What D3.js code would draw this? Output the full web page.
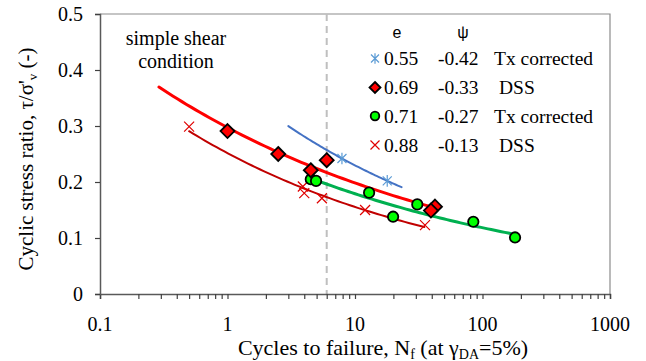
<!DOCTYPE html>
<html><head><meta charset="utf-8">
<script src="https://cdn.jsdelivr.net/npm/d3@7"></script>
<style>body{margin:0;background:#fff}svg{display:block}
.serif{font-family:"Liberation Serif","Times New Roman","DejaVu Serif",serif}
.sans{font-family:"Liberation Sans",Arial,"DejaVu Sans",sans-serif}</style>
</head><body>
<script>
// ---- data ----
const xTicks = [0.1, 1, 10, 100, 1000];
const yTicks = [0, 0.1, 0.2, 0.3, 0.4, 0.5];
const thresholdN = 6;

const txDenseN = [7.9, 17.9];           // e=0.55 Tx corrected (star)
const txDenseV = [0.242, 0.202];
const txDenseRange = [3.0, 23.2];

const dss069N = [1.0, 2.5, 4.5, 6.0, 42.4, 39.4];   // e=0.69 DSS (diamond)
const dss069V = [0.291, 0.250, 0.221, 0.239, 0.156, 0.149];
const dss069Range = [0.29, 42];

const tx071N = [4.5, 4.95, 12.9, 19.9, 30.8, 84.7, 180];   // e=0.71 Tx corrected (circle)
const tx071V = [0.205, 0.202, 0.181, 0.138, 0.160, 0.129, 0.101];
const tx071Range = [4.5, 180];

const dss088N = [0.5, 3.9, 4.0, 5.5, 12.0, 35.4];   // e=0.88 DSS (x)
const dss088V = [0.299, 0.192, 0.180, 0.171, 0.150, 0.123];
const dss088Range = [0.5, 35];

const legendE = ["0.55", "0.69", "0.71", "0.88"];
const legendPsi = ["-0.42", "-0.33", "-0.27", "-0.13"];
const legendTest = ["Tx corrected", "DSS", "Tx corrected", "DSS"];

// ---- layout ----
const W = 646, H = 361;
const m = {l: 100, r: 610, t: 14, b: 294};
const svg = d3.select("body").append("svg").attr("width", W).attr("height", H);
const x = d3.scaleLog().domain([0.1, 1000]).range([m.l, m.r]);
const y = d3.scaleLinear().domain([0, 0.5]).range([m.b, m.t]);
const FS = 20;

// plot border (top / right)
svg.append("path").attr("d", `M${m.l},${m.t}H${m.r}V${m.b}`)
  .attr("fill", "none").attr("stroke", "#8c8c8c").attr("stroke-width", 1.2);

// dashed threshold
svg.append("line").attr("x1", x(thresholdN)).attr("x2", x(thresholdN))
  .attr("y1", m.t).attr("y2", m.b).attr("stroke", "#bfbfbf")
  .attr("stroke-width", 2).attr("stroke-dasharray", "7,5");

// axes
const minor = [];
for (let d = 0.1; d < 1000; d *= 10) for (let k = 1; k < 10; k++) minor.push(d * k);
minor.push(1000);
const xAxis = d3.axisBottom(x).tickValues(minor).tickSize(5).tickFormat(() => "");
const gx = svg.append("g").attr("transform", `translate(0,${m.b})`).call(xAxis);
gx.select(".domain").attr("stroke", "#595959").attr("stroke-width", 1.5);
gx.selectAll(".tick line").attr("stroke", "#404040").attr("stroke-width", 1.2);
svg.append("g").selectAll("text").data(xTicks).join("text")
  .attr("class", "serif")
  .attr("x", d => x(d)).attr("y", 331).attr("text-anchor", "middle")
  .style("font-size", FS + "px").attr("fill", "#000")
  .text(d => d);

const yAxis = d3.axisLeft(y).tickValues(yTicks).tickSize(5).tickFormat(() => "");
const gy = svg.append("g").attr("transform", `translate(${m.l},0)`).call(yAxis);
gy.select(".domain").attr("stroke", "#595959").attr("stroke-width", 1.5);
gy.selectAll(".tick line").attr("stroke", "#404040").attr("stroke-width", 1.2);
svg.append("g").selectAll("text").data(yTicks).join("text")
  .attr("class", "serif")
  .attr("x", 83).attr("y", d => y(d) + 6.5).attr("text-anchor", "end")
  .style("font-size", FS + "px").attr("fill", "#000")
  .text(d => d);

// titles
const xt = svg.append("text").attr("class", "serif").attr("x", 383).attr("y", 355).attr("text-anchor", "middle")
  .style("font-size", "22px");
xt.append("tspan").text("Cycles to failure, N");
xt.append("tspan").attr("dy", 4).style("font-size", "14px").text("f");
xt.append("tspan").attr("dy", -4).text(" (at γ");
xt.append("tspan").attr("dy", 4).style("font-size", "14px").text("DA");
xt.append("tspan").attr("dy", -4).text("=5%)");

const yt = svg.append("text").attr("class", "serif").attr("transform", "translate(33,159) rotate(-90)")
  .attr("text-anchor", "middle").style("font-size", "21px");
yt.append("tspan").text("Cyclic stress ratio, τ/σ'");
yt.append("tspan").attr("dy", 4).style("font-size", "13px").text("v");
yt.append("tspan").attr("dy", -4).text(" (-)");

// annotation
const ann = svg.append("text").attr("class", "serif").attr("text-anchor", "middle")
  .style("font-size", FS + "px");
ann.append("tspan").attr("x", 176).attr("y", 45).text("simple shear");
ann.append("tspan").attr("x", 176).attr("y", 68).text("condition");

// power-law trend lines fitted from the points (log-log least squares)
function powerFit(N, V) {
  const lx = N.map(Math.log), ly = V.map(Math.log);
  const mx = d3.mean(lx), my = d3.mean(ly);
  const b = d3.sum(lx, (v, i) => (v - mx) * (ly[i] - my)) / d3.sum(lx, v => (v - mx) ** 2);
  const a = Math.exp(my - b * mx);
  return n => a * Math.pow(n, b);
}
function trend(N, V, range, color, w) {
  const f = powerFit(N, V);
  const pts = d3.range(0, 61).map(i => {
    const n = Math.exp(Math.log(range[0]) + (Math.log(range[1]) - Math.log(range[0])) * i / 60);
    return [x(n), y(f(n))];
  });
  svg.append("path").attr("d", d3.line()(pts)).attr("fill", "none")
    .attr("stroke", color).attr("stroke-width", w).attr("stroke-linecap", "round");
}
trend(txDenseN, txDenseV, txDenseRange, "#4472c4", 2);
trend(dss088N, dss088V, dss088Range, "#c00000", 2);
trend(tx071N, tx071V, tx071Range, "#00b050", 3);
trend(dss069N, dss069V, dss069Range, "#ff0000", 3);

// markers
function star(g, cx, cy, s, col) {
  const p = `M${cx - s},${cy - s}L${cx + s},${cy + s}M${cx - s},${cy + s}L${cx + s},${cy - s}M${cx},${cy - s * 1.3}L${cx},${cy + s * 1.3}`;
  g.append("path").attr("d", p).attr("stroke", col).attr("stroke-width", 1.2).attr("fill", "none");
}
function cross(g, cx, cy, s, col) {
  const p = `M${cx - s},${cy - s}L${cx + s},${cy + s}M${cx - s},${cy + s}L${cx + s},${cy - s}`;
  g.append("path").attr("d", p).attr("stroke", col).attr("stroke-width", 1.2).attr("fill", "none");
}
function diamond(g, cx, cy, s) {
  g.append("path").attr("d", `M${cx},${cy - s}L${cx + s},${cy}L${cx},${cy + s}L${cx - s},${cy}Z`)
    .attr("fill", "#ff0000").attr("stroke", "#000").attr("stroke-width", 1.8);
}
function circle(g, cx, cy, r) {
  g.append("circle").attr("cx", cx).attr("cy", cy).attr("r", r)
    .attr("fill", "#00ff00").attr("stroke", "#000").attr("stroke-width", 1.8);
}
const gm = svg.append("g");
dss088N.forEach((n, i) => cross(gm, x(n), y(dss088V[i]), 5, "#e00000"));
txDenseN.forEach((n, i) => star(gm, x(n), y(txDenseV[i]), 4.5, "#5b9bd5"));
tx071N.forEach((n, i) => circle(gm, x(n), y(tx071V[i]), 5.2));
dss069N.forEach((n, i) => diamond(gm, x(n), y(dss069V[i]), 7));

// legend
const lg = svg.append("g");
lg.append("text").attr("class", "sans").attr("x", 397).attr("y", 38).attr("text-anchor", "middle")
  .style("font-size", "16px").text("e");
lg.append("text").attr("class", "sans").attr("x", 463).attr("y", 38).attr("text-anchor", "middle")
  .style("font-size", "16px").text("ψ");
const rowY = [58.5, 87.5, 116, 145];
star(lg, 375, rowY[0], 4, "#5b9bd5");
diamond(lg, 375, rowY[1], 5.5);
circle(lg, 375, rowY[2], 4.3);
cross(lg, 375, rowY[3], 4.5, "#e00000");
rowY.forEach((ry, i) => {
  const t = (xx, s) => lg.append("text").attr("class", "serif").attr("x", xx).attr("y", ry + 6.5)
    .style("font-size", "19.5px").text(s);
  t(384, legendE[i]);
  t(438, legendPsi[i]);
  t(legendTest[i] === "DSS" ? 499 : 494, legendTest[i]);
});
</script>
</body></html>
